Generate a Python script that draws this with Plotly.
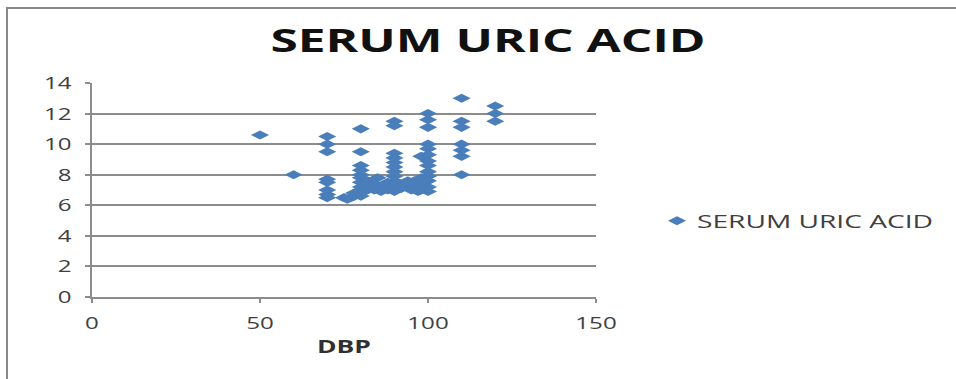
import plotly.graph_objects as go

# Diastolic blood pressure (x) against serum uric acid (y)
dbp = [
    50,
    60,
    70, 70, 70, 70, 70, 70, 70, 70,
    75, 76, 77, 78, 78,
    80, 80, 80, 80, 80, 80, 80, 80, 80, 80, 80,
    82, 82, 82, 84, 84, 85, 85, 85, 86, 86, 88, 88,
    90, 90, 90, 90, 90, 90, 90, 90, 90, 90, 90, 90,
    92, 92, 94, 94, 95, 95, 96, 96, 97, 98, 98, 98, 98,
    100, 100, 100, 100, 100, 100, 100, 100, 100, 100, 100, 100, 100,
    110, 110, 110, 110, 110, 110, 110,
    120, 120, 120,
]
uric_acid = [
    10.6,
    8.0,
    10.5, 10.0, 9.5, 7.7, 7.5, 7.0, 6.7, 6.5,
    6.5, 6.4, 6.5, 6.6, 6.8,
    11.0, 9.5, 8.6, 8.3, 8.0, 7.8, 7.5, 7.2, 7.0, 6.8, 6.6,
    7.6, 7.2, 7.0, 7.4, 7.0, 7.8, 7.3, 7.1, 7.2, 6.9, 7.0, 7.5,
    11.5, 11.2, 9.4, 9.1, 8.8, 8.5, 8.2, 7.9, 7.6, 7.3, 7.1, 6.9,
    7.4, 7.1, 7.6, 7.3, 7.0, 7.4, 7.2, 7.6, 6.9, 7.0, 7.3, 7.8, 9.2,
    12.0, 11.6, 11.1, 10.0, 9.7, 9.3, 8.9, 8.6, 8.2, 7.9, 7.6, 7.2, 6.9,
    13.0, 11.5, 11.1, 10.0, 9.6, 9.2, 8.0,
    12.5, 12.0, 11.5,
]

series_name = "SERUM URIC ACID"
chart_title = "SERUM URIC ACID"
x_title = "DBP"
x_ticks = [0, 50, 100, 150]
y_ticks = [0, 2, 4, 6, 8, 10, 12, 14]

W, H = 956, 379
L, R, T, B = 92, 360, 83, 82
plot_w, plot_h = W - L - R, H - T - B

blue = "#4A7EBB"
grid = "#8C8C8C"
font_family = "Open Sans, DejaVu Sans, sans-serif"

fig = go.Figure()
fig.add_trace(go.Scatter(
    x=dbp, y=uric_acid, mode="markers", name=series_name,
    marker=dict(symbol="diamond-wide", size=13, color=blue, line=dict(width=0)),
    showlegend=True,
))


def px_to_paper_x(px):
    return (px - L) / plot_w


def px_to_paper_y(py):
    return (H - B - py) / plot_h


fig.update_layout(
    width=W, height=H,
    margin=dict(l=L, r=R, t=T, b=B, pad=0),
    paper_bgcolor="white", plot_bgcolor="white",
    font=dict(family=font_family, color="#404040", size=15),
    title=dict(
        text=chart_title,
        x=488 / W, xanchor="center",
        y=1 - 41 / H, yanchor="middle",
        font=dict(family=font_family, size=32, weight=700, color="#111111"),
    ),
    xaxis=dict(
        range=[0, 150], tickvals=x_ticks,
        showgrid=False, zeroline=False,
        showline=True, linecolor=grid, linewidth=2,
        ticks="outside", ticklen=4, tickcolor=grid, tickwidth=1.5,
        ticklabelstandoff=6,
        tickfont=dict(size=17, color="#404040"),
        title=dict(text=x_title, standoff=8,
                   font=dict(size=17, weight=700, color="#303030")),
        fixedrange=True,
    ),
    yaxis=dict(
        range=[0, 14], tickvals=y_ticks,
        showgrid=True, gridcolor=grid, gridwidth=1.5,
        zeroline=False,
        showline=True, linecolor=grid, linewidth=2,
        ticks="outside", ticklen=5, tickcolor=grid, tickwidth=1.5,
        ticklabelstandoff=10,
        tickfont=dict(size=17, color="#404040"),
        fixedrange=True,
    ),
    legend=dict(
        x=px_to_paper_x(657), xanchor="left",
        y=px_to_paper_y(221), yanchor="middle",
        font=dict(size=18, color="#404040"),
        bgcolor="rgba(0,0,0,0)", itemwidth=30,
    ),
    shapes=[
        # frame around the chart object
        dict(type="rect", xref="paper", yref="paper",
             x0=px_to_paper_x(7), x1=px_to_paper_x(970),
             y0=px_to_paper_y(390), y1=px_to_paper_y(8),
             line=dict(color="#8A8A8A", width=2), fillcolor="rgba(0,0,0,0)",
             layer="below"),
    ],
)

# Widen the lettering horizontally (wide-set text style) using SVG textLength.
widen_text = """
var gd = document.getElementById('{plot_id}');
function widen(sel, factor, target) {
  gd.querySelectorAll(sel).forEach(function (t) {
    var base = parseFloat(t.getAttribute('data-base-w'));
    if (!base) {
      base = t.getComputedTextLength();
      t.setAttribute('data-base-w', base);
    }
    var w = target ? target : base * factor;
    t.setAttribute('textLength', w.toFixed(1));
    t.setAttribute('lengthAdjust', 'spacingAndGlyphs');
  });
}
function widenAll() {
  widen('text.gtitle', 0, 435);
  widen('text.legendtext', 0, 236);
  widen('text.xtitle', 0, 54);
  widen('g.xtick text', 1.42, 0);
  widen('g.ytick text', 1.42, 0);
  // the legend box is sized for the narrower text; let the wider label show
  gd.querySelectorAll('.legend [clip-path]').forEach(function (g) {
    g.removeAttribute('clip-path');
  });
  gd.querySelectorAll('g.legend').forEach(function (g) {
    g.removeAttribute('clip-path');
  });
}
widenAll();
gd.on('plotly_afterplot', widenAll);
setTimeout(widenAll, 50);
"""

fig.write_html("out.html", post_script=widen_text)
